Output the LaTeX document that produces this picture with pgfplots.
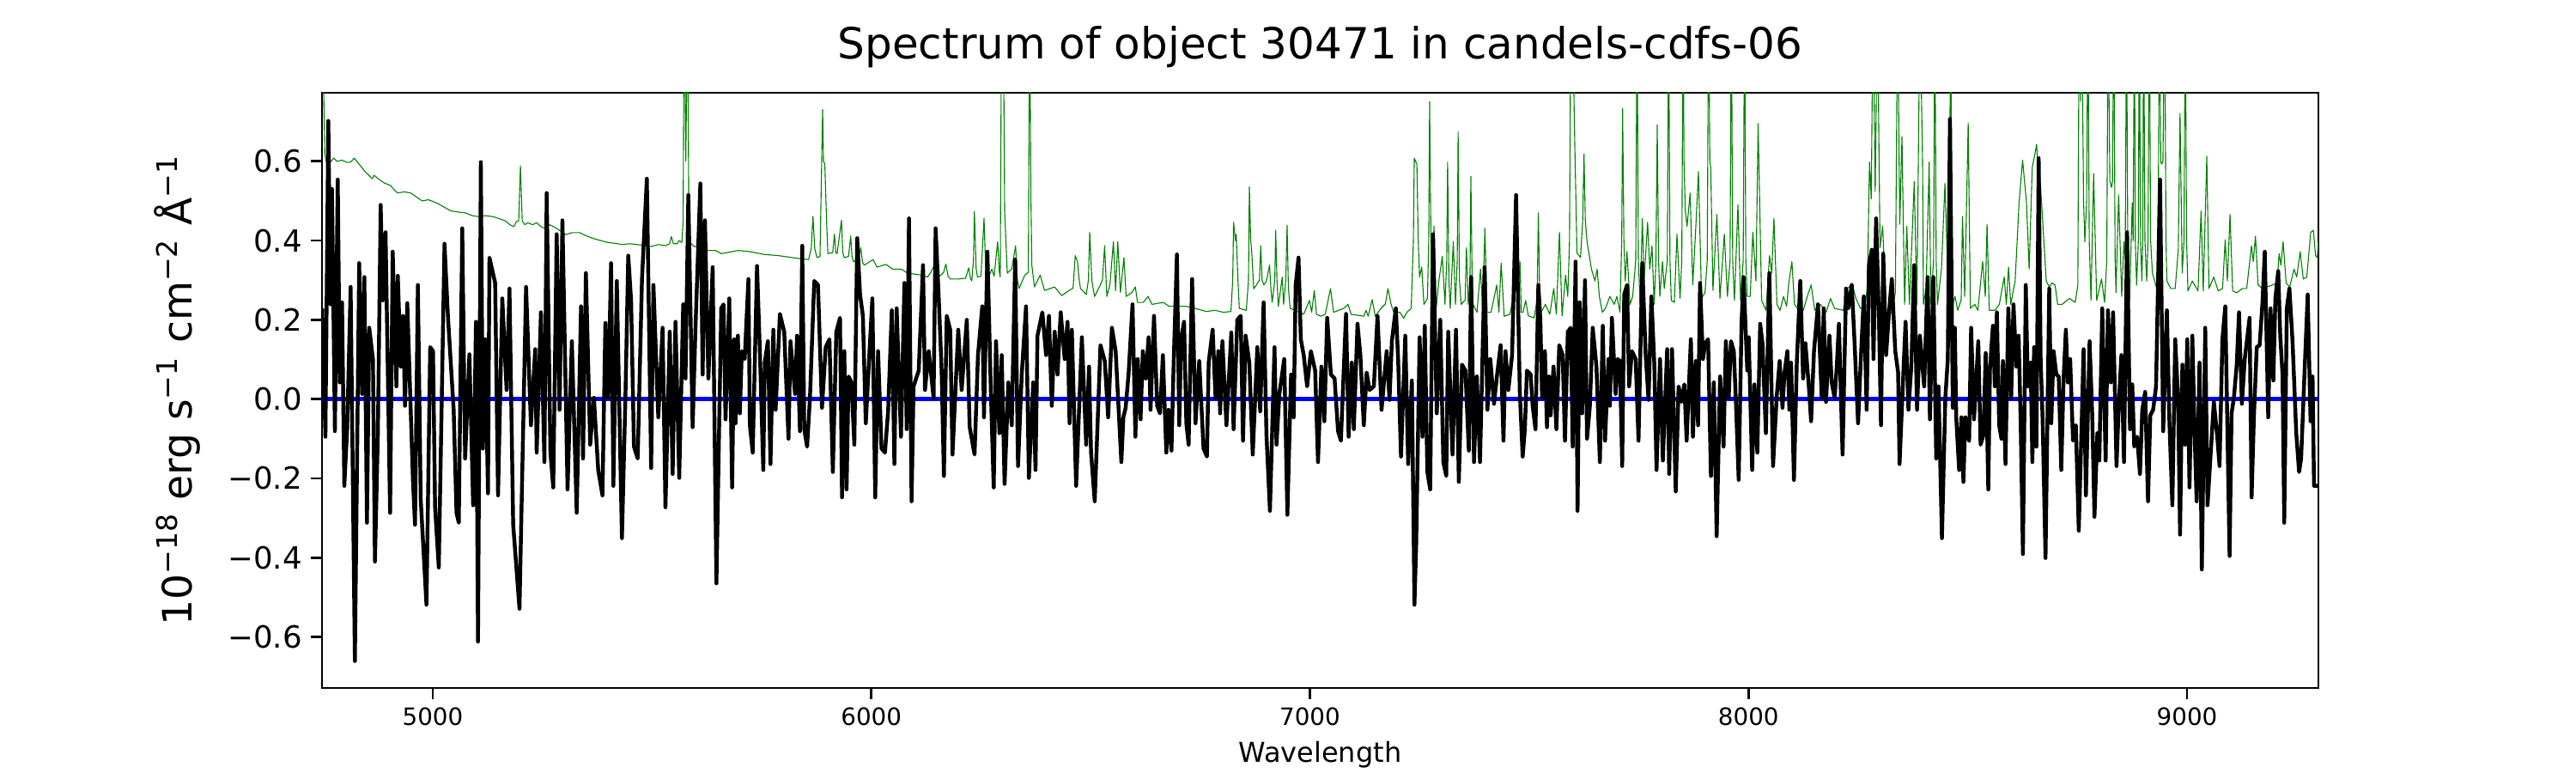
\documentclass[border=0pt]{standalone}
\usepackage{fontspec}
\setmainfont{DejaVu Sans}
\usepackage{pgfplots}
\pgfplotsset{compat=1.18}
\usepackage{pgfplotstable}
\definecolor{mplgreen}{rgb}{0,0.5,0}
\pgfplotstableread{
x y
4748 0.229
4755.3 -0.095
4761.9 0.702
4767.1 0.239
4770.3 0.530
4776.9 -0.081
4783.4 0.554
4788.0 0.042
4793.2 0.244
4798.4 -0.219
4804.9 -0.076
4812.8 0.283
4822.5 -0.661
4832.3 0.343
4838.9 0.013
4844.1 0.308
4850.0 -0.312
4855.2 0.180
4863.7 0.101
4868.2 -0.410
4874.8 -0.095
4881.3 0.490
4885.9 0.249
4892.4 0.421
4902.8 -0.287
4908.7 0.372
4917.2 0.032
4920.4 0.311
4927.0 0.082
4932.2 0.210
4936.8 -0.017
4942.0 0.242
4955.0 -0.209
4959.6 -0.317
4966.1 0.288
4972.6 -0.253
4985.7 -0.519
4994.2 0.131
5000.7 0.121
5005.3 -0.273
5013.8 -0.425
5026.8 0.392
5034.6 0.210
5047.7 -0.027
5054.2 -0.287
5059.4 -0.312
5067.3 0.431
5073.8 -0.150
5083.6 0.113
5092.1 -0.268
5098.6 0.195
5103.2 -0.612
5109.7 0.598
5114.3 -0.125
5119.5 0.151
5126.0 -0.238
5129.3 0.357
5142.3 0.293
5148.9 -0.243
5158.6 0.254
5168.4 0.023
5175.0 0.279
5183.4 -0.317
5197.8 -0.529
5212.8 0.283
5223.9 -0.066
5233.7 0.126
5237.0 -0.135
5246.7 0.219
5254.6 -0.159
5259.8 0.520
5268.3 -0.135
5274.8 -0.223
5282.6 0.416
5289.2 -0.027
5295.7 0.451
5307.4 -0.228
5317.2 0.146
5328.3 -0.287
5338.1 0.234
5342.7 -0.150
5349.2 0.318
5359.0 -0.115
5367.5 0.003
5377.3 -0.179
5387.0 -0.243
5393.6 0.192
5400.1 0.003
5406.6 0.343
5411.9 -0.219
5419.7 0.298
5431.4 -0.351
5439.3 0.003
5445.8 0.362
5452.3 0.249
5458.8 -0.120
5467.3 -0.150
5477.1 0.303
5488.2 0.556
5498.0 -0.174
5503.2 0.288
5514.3 -0.046
5524.1 0.180
5530.6 -0.273
5540.4 0.170
5547.0 -0.189
5553.5 0.195
5562.0 -0.199
5571.1 0.239
5576.3 0.052
5582.8 0.515
5592.6 -0.071
5599.1 0.180
5610.2 0.544
5615.4 0.062
5620.7 0.451
5628.5 0.052
5638.3 0.333
5646.8 -0.465
5657.8 0.229
5663.0 0.239
5667.6 -0.051
5676.1 0.254
5682.6 -0.223
5687.2 0.151
5690.4 -0.061
5695.7 0.160
5700.2 -0.036
5704.8 0.121
5711.3 0.101
5719.8 0.303
5723.1 -0.066
5729.6 -0.135
5739.4 0.336
5745.9 0.121
5753.7 -0.179
5757.0 0.092
5764.2 0.146
5770.1 -0.164
5776.6 0.175
5781.8 -0.027
5791.6 0.215
5801.4 0.170
5811.2 -0.100
5815.7 0.146
5826.2 0.013
5830.7 0.160
5837.3 -0.081
5842.5 0.387
5847.1 -0.076
5853.6 -0.120
5860.1 0.003
5869.9 0.298
5878.4 0.288
5887.5 -0.022
5896.0 0.131
5904.5 0.151
5912.3 -0.184
5920.2 0.170
5928.6 0.205
5933.2 -0.248
5938.4 0.121
5943.6 -0.228
5948.2 0.057
5954.7 0.042
5961.3 -0.115
5967.8 0.406
5974.3 0.264
5980.8 0.210
5987.4 -0.061
5995.9 0.121
6002.4 0.254
6008.9 -0.248
6015.4 0.121
6023.3 -0.125
6031.1 -0.135
6038.3 -0.031
6046.7 0.224
6052.6 -0.164
6057.8 0.229
6067.6 -0.095
6075.5 0.293
6080.7 -0.076
6085.9 0.456
6091.8 -0.258
6096.3 0.032
6108.1 0.072
6117.9 0.338
6122.4 0.023
6130.9 0.121
6142.0 0.003
6146.6 0.431
6153.8 0.254
6160.3 0.072
6165.5 -0.194
6172.0 0.210
6179.9 0.175
6185.1 -0.140
6198.2 0.175
6206.0 0.023
6217.7 0.200
6224.3 -0.071
6235.4 -0.140
6243.2 0.111
6253.0 0.234
6256.9 -0.046
6264.7 0.372
6272.5 0.023
6279.1 -0.223
6284.3 0.146
6292.1 -0.086
6297.3 0.111
6303.9 -0.214
6312.4 0.042
6320.2 -0.066
6328.0 0.352
6334.5 -0.169
6343.0 0.062
6352.8 0.234
6359.3 -0.199
6369.1 0.042
6374.4 -0.179
6378.9 0.160
6390.0 0.219
6398.5 0.111
6405.0 0.210
6411.5 -0.017
6418.1 0.170
6424.6 0.062
6431.8 0.219
6440.9 0.101
6447.4 0.195
6452.0 -0.061
6457.2 0.175
6467.0 -0.219
6480.1 0.156
6489.9 -0.115
6496.4 0.082
6501.0 -0.135
6509.4 -0.258
6522.5 0.136
6532.3 0.096
6540.1 -0.046
6548.6 0.180
6557.1 0.121
6570.1 -0.159
6574.7 -0.046
6579.9 -0.022
6586.5 0.062
6595.6 0.239
6602.1 -0.095
6607.4 0.101
6613.9 -0.051
6619.1 0.121
6625.6 0.052
6632.2 0.156
6636.7 -0.027
6644.6 0.210
6651.7 -0.017
6658.3 -0.036
6664.8 0.111
6672.6 -0.135
6677.8 -0.027
6684.4 -0.130
6688.9 0.072
6696.8 0.365
6702.0 -0.066
6706.6 0.151
6713.1 0.195
6718.3 -0.061
6723.5 -0.115
6731.4 0.303
6739.2 -0.061
6747.7 0.096
6757.5 -0.125
6765.3 -0.145
6769.2 0.092
6778.3 0.175
6784.9 0.003
6791.4 0.121
6795.3 -0.036
6800.5 0.146
6809.7 -0.066
6820.8 0.168
6826.0 -0.076
6834.5 0.200
6842.3 0.210
6847.5 -0.105
6853.4 0.160
6861.9 0.092
6869.7 -0.140
6880.1 0.131
6886.7 -0.031
6894.5 0.244
6901.0 -0.091
6908.9 -0.282
6919.3 0.131
6923.9 -0.115
6930.4 0.013
6941.5 0.101
6948.7 -0.292
6957.1 0.062
6963.0 -0.046
6967.6 0.288
6974.1 0.357
6979.3 0.151
6985.9 0.111
6993.7 0.032
7002.2 0.121
7012.0 0.072
7018.5 -0.159
7026.3 0.082
7032.9 -0.056
7039.4 0.205
7047.9 0.062
7056.3 0.052
7064.2 -0.081
7070.7 -0.105
7082.4 0.215
7088.3 -0.095
7095.5 0.092
7100.1 -0.076
7108.6 0.190
7115.1 0.111
7122.9 -0.066
7129.4 0.067
7136.0 0.023
7145.8 0.032
7154.2 0.210
7163.4 -0.027
7175.1 0.121
7181.6 -0.002
7186.9 0.146
7196.0 0.229
7201.2 0.101
7207.7 -0.145
7217.5 0.160
7224.1 -0.164
7232.5 0.047
7238.4 -0.519
7242.3 -0.371
7250.2 0.156
7256.7 -0.095
7261.9 0.185
7267.8 -0.184
7274.3 -0.228
7280.8 0.416
7289.3 -0.036
7297.2 0.200
7304.3 -0.159
7310.9 -0.194
7315.4 0.170
7325.2 -0.140
7333.1 0.175
7339.6 -0.209
7346.8 0.087
7354.6 0.072
7362.4 -0.130
7367.7 0.308
7374.2 -0.159
7380.7 0.057
7387.9 -0.159
7398.3 0.333
7404.8 -0.027
7411.4 0.101
7419.8 -0.012
7426.4 0.057
7434.9 0.136
7441.4 -0.105
7446.0 0.121
7452.5 0.023
7461.0 0.111
7470.1 0.515
7478.6 0.018
7485.1 -0.145
7490.2 -0.076
7494.8 0.072
7503.3 0.062
7507.9 -0.017
7514.4 -0.076
7520.9 0.288
7525.5 0.200
7529.4 0.003
7535.9 0.121
7540.5 -0.071
7545.1 0.057
7549.0 -0.041
7555.5 0.082
7562.0 -0.076
7568.6 0.136
7576.4 0.111
7581.6 -0.105
7588.1 0.170
7594.7 0.180
7599.2 -0.120
7605.8 0.347
7610.3 -0.282
7615.5 0.244
7620.8 -0.036
7627.3 0.300
7631.9 -0.100
7638.4 -0.017
7644.9 0.180
7653.4 0.082
7661.2 -0.159
7667.8 0.185
7673.0 -0.105
7680.8 0.101
7684.1 -0.017
7688.6 0.205
7697.1 0.013
7701.7 0.101
7706.9 0.096
7712.1 -0.169
7716.7 0.264
7723.2 0.288
7727.8 0.032
7734.3 0.121
7742.8 0.101
7749.3 -0.105
7757.8 0.343
7765.6 0.111
7772.2 -0.002
7778.7 0.259
7785.2 0.092
7790.4 -0.179
7798.3 0.101
7804.8 -0.155
7814.6 0.126
7819.2 -0.189
7825.7 0.126
7834.2 -0.233
7840.7 0.032
7847.2 -0.007
7853.7 0.037
7859.0 -0.105
7868.7 0.151
7873.3 -0.095
7879.8 0.096
7885.1 -0.066
7889.6 0.293
7896.2 0.101
7901.4 0.141
7907.9 0.151
7914.4 -0.194
7921.0 0.042
7927.5 -0.346
7935.3 0.057
7943.2 -0.120
7948.4 0.146
7954.9 0.003
7960.1 0.146
7966.6 0.121
7971.2 -0.002
7977.7 -0.204
7984.3 0.195
7988.8 0.308
7997.3 0.072
8000.6 0.156
8008.4 -0.179
8013.6 0.037
8020.2 -0.135
8026.7 0.190
8031.9 0.141
8039.7 -0.086
8047.6 0.318
8056.0 -0.169
8064.5 0.008
8071.1 0.096
8077.6 -0.022
8082.2 0.067
8088.7 0.121
8093.3 -0.027
8097.2 0.092
8103.7 -0.204
8110.2 0.092
8118.1 0.298
8124.6 0.052
8129.8 0.141
8137.6 0.032
8142.8 -0.056
8149.4 0.121
8158.5 0.239
8167.0 0.003
8171.6 0.229
8176.8 -0.007
8184.6 0.160
8189.8 0.042
8196.4 0.003
8201.6 0.087
8206.2 0.190
8214.6 -0.140
8222.5 0.279
8227.7 0.229
8235.5 0.288
8242.0 0.141
8249.9 -0.061
8256.4 0.106
8262.9 0.259
8269.5 -0.027
8274.7 0.338
8281.2 0.377
8285.1 0.101
8291.0 0.456
8297.5 0.205
8302.1 -0.066
8307.3 0.367
8313.8 0.111
8320.4 0.219
8326.9 0.303
8334.7 0.121
8341.2 0.067
8344.5 -0.164
8353.0 0.062
8358.2 0.195
8364.7 -0.027
8371.3 0.082
8377.8 0.338
8384.3 -0.027
8390.8 0.160
8395.4 0.101
8400.6 0.032
8408.5 0.308
8413.7 -0.051
8421.5 0.308
8428.1 -0.150
8433.3 0.032
8441.1 -0.351
8448.9 0.003
8454.5 0.101
8459.4 0.707
8465.9 -0.022
8470.5 0.180
8473.7 -0.046
8480.3 -0.179
8485.5 -0.046
8490.1 -0.209
8494.6 -0.046
8503.1 -0.105
8507.7 0.180
8514.2 -0.051
8518.1 0.023
8524.0 0.146
8529.2 -0.115
8535.7 -0.091
8540.9 0.116
8546.8 -0.228
8550.7 0.077
8557.3 0.185
8561.8 0.032
8566.4 0.219
8571.6 -0.066
8576.8 -0.100
8580.1 0.096
8586.0 -0.164
8592.5 0.229
8599.0 0.003
8604.3 0.239
8610.8 0.082
8616.0 0.160
8620.6 -0.056
8625.8 -0.391
8632.3 0.288
8636.9 0.032
8643.4 0.092
8647.3 -0.159
8651.2 0.131
8656.5 -0.120
8661.7 0.608
8666.2 0.101
8670.8 -0.056
8677.3 -0.401
8685.8 0.279
8690.4 -0.061
8695.6 0.121
8702.1 0.062
8707.4 0.057
8713.2 -0.179
8718.5 0.052
8723.7 0.175
8728.2 0.042
8733.5 0.101
8740.0 -0.105
8746.5 -0.066
8753.1 -0.332
8759.6 -0.066
8764.1 0.126
8769.4 -0.243
8777.8 0.146
8783.7 -0.036
8788.9 -0.297
8795.5 -0.086
8800.0 -0.155
8806.6 0.229
8814.4 -0.155
8819.6 0.224
8826.1 0.042
8831.4 0.219
8839.2 -0.169
8844.4 -0.012
8850.3 0.111
8856.2 -0.159
8863.3 0.421
8869.9 -0.076
8875.1 0.037
8879.6 -0.120
8886.2 -0.095
8892.7 -0.189
8897.9 -0.027
8904.5 0.018
8911.0 -0.258
8916.2 -0.041
8922.7 -0.027
8929.3 0.032
8938.4 0.554
8945.6 -0.081
8954.0 0.224
8959.9 -0.061
8966.5 -0.268
8973.0 0.151
8979.5 0.003
8984.1 -0.342
8989.3 0.087
8995.8 -0.115
9000.4 0.151
9005.6 -0.223
9012.1 0.160
9017.4 -0.095
9021.9 -0.258
9028.4 0.092
9033.7 -0.430
9041.5 0.180
9046.7 -0.268
9053.2 -0.150
9061.1 -0.007
9068.9 -0.095
9074.1 -0.169
9080.6 0.151
9087.2 0.234
9097.0 -0.396
9101.5 -0.036
9106.8 0.003
9113.3 0.087
9118.5 0.219
9125.0 -0.012
9131.6 0.101
9142.6 0.205
9147.2 -0.248
9152.4 -0.046
9158.9 0.131
9165.5 0.136
9172.0 0.244
9177.2 0.372
9185.1 -0.046
9190.3 0.229
9196.8 0.047
9201.4 0.254
9207.9 0.323
9212.5 0.160
9217.7 0.062
9221.6 -0.312
9227.5 0.229
9233.4 0.279
9240.5 0.146
9249.0 -0.086
9255.5 -0.184
9260.1 -0.150
9266.6 0.032
9275.1 0.264
9281.6 -0.056
9286.2 0.057
9289.5 -0.219
9299.5 -0.219
}\blk
\pgfplotstableread{
x y
4748 1.0
4751 0.80
4754 0.62
4757 0.600
4767 0.598
4774 0.608
4782 0.600
4793 0.603
4805 0.597
4813 0.598
4821 0.608
4832 0.593
4845 0.575
4855 0.564
4862 0.556
4866 0.565
4878 0.554
4890 0.545
4904 0.539
4912 0.528
4920 0.520
4935 0.523
4950 0.520
4963 0.510
4976 0.500
4990 0.503
5009 0.495
5025 0.485
5041 0.475
5058 0.472
5074 0.470
5090 0.463
5106 0.460
5120 0.463
5139 0.460
5152 0.455
5165 0.450
5176 0.440
5185 0.435
5191 0.448
5196 0.450
5200 0.589
5204 0.450
5210 0.440
5217 0.445
5228 0.440
5237 0.445
5247 0.435
5257 0.430
5266 0.440
5276 0.435
5290 0.425
5302 0.415
5318 0.420
5335 0.420
5350 0.412
5367 0.405
5383 0.400
5400 0.395
5416 0.393
5433 0.390
5450 0.392
5465 0.390
5480 0.388
5498 0.385
5515 0.390
5531 0.387
5540 0.392
5544 0.410
5549 0.392
5557 0.392
5562 0.400
5568 0.395
5571 0.45
5573 1.0
5577 0.60
5581 1.0
5584 0.45
5587 0.395
5596 0.385
5615 0.385
5628 0.375
5645 0.375
5658 0.367
5697 0.375
5723 0.372
5756 0.365
5788 0.362
5840 0.354
5857 0.352
5863 0.38
5867 0.461
5871 0.38
5876 0.357
5883 0.36
5889 0.731
5891 0.60
5894 0.593
5898 0.45
5901 0.367
5912 0.37
5916 0.416
5919 0.37
5922 0.367
5932 0.451
5935 0.37
5938 0.357
5948 0.36
5953 0.411
5956 0.36
5959 0.347
5970 0.35
5976 0.382
5980 0.345
5984 0.338
6004 0.352
6013 0.333
6033 0.340
6049 0.328
6069 0.328
6082 0.318
6100 0.315
6115 0.313
6128 0.308
6136 0.32
6141 0.333
6148 0.315
6154 0.308
6165 0.32
6170 0.341
6175 0.31
6180 0.303
6199 0.303
6215 0.305
6222 0.331
6226 0.305
6229 0.298
6233 0.35
6235 0.473
6239 0.33
6242 0.308
6250 0.31
6257 0.456
6261 0.32
6265 0.303
6275 0.328
6280 0.31
6288 0.397
6292 0.32
6294 0.308
6297 1.0
6301 1.0
6304 0.475
6310 0.318
6320 0.328
6329 0.387
6333 0.30
6337 0.279
6350 0.313
6358 0.32
6361 1.0
6364 0.50
6366 0.338
6372 0.283
6385 0.313
6395 0.274
6418 0.283
6434 0.261
6451 0.274
6460 0.28
6465 0.362
6470 0.347
6474 0.30
6477 0.279
6490 0.264
6495 0.30
6498 0.421
6503 0.298
6509 0.259
6520 0.283
6527 0.30
6532 0.387
6537 0.259
6544 0.288
6552 0.397
6557 0.274
6562 0.397
6568 0.269
6576 0.357
6581 0.259
6594 0.269
6602 0.283
6607 0.244
6620 0.244
6631 0.259
6640 0.239
6666 0.244
6679 0.234
6699 0.234
6718 0.234
6738 0.229
6764 0.221
6784 0.224
6803 0.219
6820 0.221
6824 0.30
6826 0.446
6830 0.40
6832 0.416
6836 0.30
6839 0.229
6855 0.224
6860 0.30
6862 0.536
6865 0.40
6867 0.379
6872 0.278
6878 0.288
6885 0.30
6888 0.387
6891 0.30
6895 0.288
6901 0.298
6908 0.338
6911 0.28
6914 0.244
6920 0.30
6922 0.426
6925 0.30
6928 0.234
6937 0.308
6940 0.239
6945 0.30
6948 0.439
6951 0.28
6955 0.229
6966 0.224
6986 0.214
6999 0.249
7004 0.219
7010 0.274
7015 0.214
7025 0.209
7035 0.214
7047 0.279
7054 0.219
7077 0.229
7087 0.239
7094 0.214
7123 0.209
7128 0.224
7133 0.209
7142 0.251
7149 0.209
7162 0.229
7172 0.24
7178 0.279
7185 0.24
7191 0.219
7205 0.219
7214 0.204
7221 0.219
7231 0.229
7236 0.40
7238 0.608
7241 0.60
7244 0.593
7247 0.40
7250 0.308
7255 0.333
7260 0.239
7268 0.254
7271 0.40
7273 0.751
7276 0.40
7278 0.298
7283 0.436
7288 0.229
7294 0.298
7302 0.360
7308 0.239
7312 0.35
7314 0.598
7317 0.30
7320 0.229
7327 0.397
7332 0.239
7336 0.35
7338 0.674
7341 0.30
7345 0.239
7354 0.25
7357 0.382
7361 0.239
7365 0.30
7367 0.562
7370 0.30
7372 0.239
7381 0.219
7389 0.328
7394 0.219
7399 0.431
7404 0.219
7413 0.219
7426 0.288
7431 0.219
7436 0.343
7443 0.209
7456 0.214
7466 0.269
7470 0.338
7476 0.30
7479 0.347
7482 0.219
7486 0.219
7492 0.249
7498 0.210
7511 0.205
7518 0.25
7521 0.470
7524 0.25
7527 0.219
7537 0.239
7547 0.214
7556 0.279
7562 0.214
7569 0.421
7575 0.210
7583 0.313
7588 0.259
7592 0.40
7595 1.0
7599 1.0
7603 0.697
7609 0.369
7617 0.357
7622 0.45
7625 0.618
7628 0.45
7632 0.397
7642 0.328
7650 0.298
7655 0.328
7660 0.259
7667 0.219
7674 0.229
7684 0.259
7694 0.239
7700 0.259
7707 0.219
7711 0.40
7713 0.734
7716 0.40
7719 0.298
7723 0.372
7730 0.239
7736 0.259
7743 0.35
7746 1.0
7749 0.35
7753 0.239
7758 0.456
7762 0.298
7770 0.446
7775 0.328
7780 0.387
7785 0.239
7789 0.35
7792 0.692
7795 0.35
7798 0.259
7804 0.347
7808 0.279
7815 0.35
7818 1.0
7821 0.35
7824 0.249
7831 0.244
7837 0.416
7844 0.254
7848 0.35
7851 1.0
7853 0.60
7856 0.475
7860 0.436
7867 0.520
7873 0.288
7880 0.436
7886 0.574
7893 0.254
7901 0.269
7906 0.35
7909 1.0
7912 0.60
7914 0.584
7919 0.274
7928 0.466
7935 0.254
7945 0.416
7952 0.259
7958 0.35
7961 1.0
7964 0.35
7968 0.249
7976 0.490
7982 0.249
7988 0.35
7991 1.0
7994 0.35
7997 0.259
8004 0.259
8010 0.421
8017 0.298
8022 0.695
8030 0.249
8040 0.224
8048 0.362
8053 0.318
8058 0.456
8065 0.239
8072 0.224
8080 0.259
8087 0.234
8092 0.293
8099 0.347
8105 0.239
8115 0.224
8125 0.224
8134 0.259
8143 0.288
8151 0.224
8164 0.239
8177 0.219
8187 0.254
8196 0.229
8216 0.224
8226 0.279
8236 0.291
8245 0.254
8255 0.229
8265 0.234
8271 0.279
8276 0.598
8280 0.505
8284 1.0
8289 0.524
8294 1.0
8300 0.382
8306 0.436
8314 0.219
8327 0.219
8335 0.269
8340 1.0
8345 0.441
8350 0.662
8356 0.239
8361 0.436
8367 0.239
8378 0.549
8384 0.239
8391 1.0
8397 0.593
8399 0.239
8405 0.279
8412 0.598
8416 0.239
8422 0.35
8425 1.0
8428 0.35
8431 0.239
8440 0.328
8448 0.544
8454 0.328
8458 0.40
8461 1.0
8464 0.35
8466 0.239
8471 0.259
8477 0.224
8485 0.25
8488 0.461
8493 0.259
8501 0.697
8506 0.229
8516 0.239
8523 0.224
8534 0.347
8540 0.259
8544 0.441
8549 0.224
8562 0.224
8572 0.239
8583 0.308
8588 0.239
8593 0.333
8598 0.239
8608 0.298
8617 0.495
8625 0.603
8634 0.495
8640 0.328
8647 0.584
8653 0.618
8657 0.643
8660 0.584
8663 0.593
8670 0.465
8679 0.298
8686 0.283
8692 0.293
8699 0.288
8705 0.239
8715 0.239
8732 0.254
8745 0.244
8751 0.288
8754 1.0
8757 0.751
8760 1.0
8764 0.50
8767 0.397
8771 0.50
8774 1.0
8777 0.40
8781 0.249
8787 0.569
8794 0.249
8805 0.303
8812 0.244
8817 0.35
8820 1.0
8824 0.55
8828 0.534
8830 0.55
8833 1.0
8836 0.35
8838 0.269
8844 0.515
8851 0.259
8856 0.397
8859 0.35
8862 1.0
8865 0.35
8869 0.249
8875 0.495
8877 0.40
8880 1.0
8882 0.40
8885 0.288
8889 0.40
8891 1.0
8894 0.40
8897 0.298
8899 0.40
8901 1.0
8904 0.40
8908 0.298
8911 0.40
8914 1.0
8917 0.40
8921 0.318
8931 0.279
8934 0.40
8937 1.0
8940 0.60
8942 0.593
8945 0.60
8949 1.0
8952 0.40
8954 0.298
8963 0.279
8973 0.279
8980 0.377
8984 0.721
8989 0.318
8993 0.40
8996 1.0
8999 0.40
9002 0.273
9012 0.298
9025 0.273
9032 0.475
9037 0.273
9045 0.613
9050 0.279
9061 0.308
9071 0.273
9081 0.279
9087 0.402
9092 0.298
9098 0.466
9104 0.273
9113 0.268
9126 0.279
9136 0.279
9147 0.387
9151 0.347
9156 0.411
9162 0.288
9172 0.279
9195 0.288
9205 0.293
9210 0.367
9214 0.338
9219 0.397
9226 0.293
9234 0.283
9244 0.328
9250 0.308
9258 0.372
9265 0.303
9273 0.308
9282 0.421
9288 0.426
9293 0.362
9297 0.357
9299.5 0.40
}\grn
\begin{document}
\begin{tikzpicture}
\path[use as bounding box] (-135pt,-35.64pt) rectangle (945pt,288.36pt);
\begin{axis}[
  at={(0,0)}, anchor=south west,
  width=837pt, height=249.48pt, scale only axis,
  xmin=4747.5, xmax=9299.5, ymin=-0.729, ymax=0.773,
  axis line style={line width=1.05pt},
  tick align=outside, tick pos=left,
  major tick length=4.8pt,
  every tick/.style={black, line width=1pt},
  xtick={5000,6000,7000,8000,9000},
  xticklabels={5000,6000,7000,8000,9000},
  ytick={-0.6,-0.4,-0.2,0,0.2,0.4,0.6},
  yticklabels={−0.6,−0.4,−0.2,0.0,0.2,0.4,0.6},
  xticklabel style={font=\fontsize{10}{12}\selectfont},
  yticklabel style={font=\fontsize{12.8}{15}\selectfont},
  title={Spectrum of object 30471 in candels-cdfs-06},
  title style={font=\fontsize{18}{21}\selectfont, at={(axis description cs:0.5,1)}, anchor=base, yshift=8.3pt},
  xlabel={Wavelength},
  xlabel style={font=\fontsize{11.5}{14}\selectfont, at={(axis description cs:0.5,0)}, anchor=base, yshift=-31pt},
  ylabel={10\textsuperscript{−18} erg s\textsuperscript{−1} cm\textsuperscript{−2} Å\textsuperscript{−1}},
  ylabel style={font=\fontsize{17}{20}\selectfont, at={(axis description cs:-0.0723,0.5)}, anchor=center},
]
\addplot[mplgreen, line width=0.4pt, line join=round] table {\grn};
\addplot[blue, line width=2pt] coordinates {(4747.5,0) (9299.5,0)};
\addplot[black, line width=1.6pt, line join=round] table {\blk};
\end{axis}
\end{tikzpicture}
\end{document}
